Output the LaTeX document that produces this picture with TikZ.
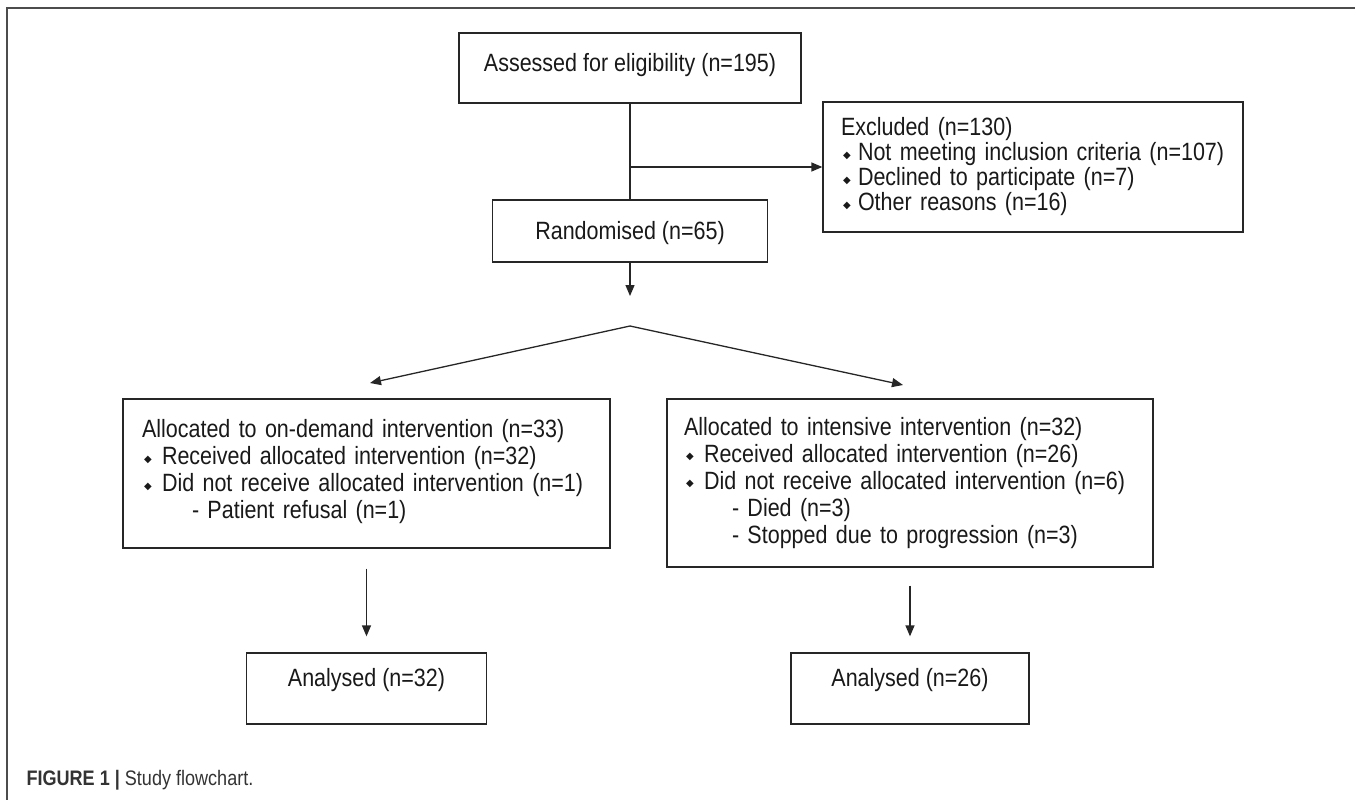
\documentclass[tikz,border=0pt]{standalone}
\usepackage{fontspec}
\setmainfont[FakeStretch=0.86]{Liberation Sans}
\newfontfamily\symf{DejaVu Sans}
\usetikzlibrary{arrows.meta}
\newcommand{\bul}[1]{\makebox[#1][l]{\hspace{2pt}\raisebox{2.5pt}{\symf\fontsize{10}{10}\selectfont ◆}}}
\tikzset{
  flowbox/.style={draw=black!85, line width=1.3pt, inner sep=0pt, font=\fontsize{25}{27}\selectfont, text=black!90},
  ln/.style={line width=1.3pt, draw=black!85},
  arr/.style={line width=1.3pt, draw=black!85, -{Triangle[length=11pt,width=9pt]}},
}
\begin{document}
\begin{tikzpicture}[x=1pt,y=-1pt]
\useasboundingbox (0,0) rectangle (1355,800);
\draw[line width=1.5pt, draw=black!70] (7,800) -- (7,8) -- (1355,8);

\node[flowbox, minimum width=342pt, minimum height=70pt, text depth=10.2pt] (assess) at (630,68) {Assessed for eligibility (n=195)};
\node[flowbox, minimum width=275pt, minimum height=62pt, text depth=0.5pt] (rand) at (630,231) {Randomised (n=65)};
\node[flowbox, minimum width=420pt, minimum height=130pt, inner xsep=18pt, text width=384pt, align=left, font=\fontsize{25}{25}\selectfont] (excl) at (1033,167) {Excluded (n=130)\\ \bul{17pt}Not meeting inclusion criteria (n=107)\\ \bul{17pt}Declined to participate (n=7)\\ \bul{17pt}Other reasons (n=16)};

\node[flowbox, minimum width=487pt, minimum height=149pt, inner xsep=19pt, text width=449pt, align=left] (alloc1) at (366.5,473.5) {Allocated to on-demand intervention (n=33)\\
\bul{20pt}Received allocated intervention (n=32)\\
\bul{20pt}Did not receive allocated intervention (n=1)\\
\hspace*{50pt}- Patient refusal (n=1)\rule[-9pt]{0pt}{9pt}};

\node[flowbox, minimum width=486pt, minimum height=168pt, inner xsep=17pt, text width=452pt, align=left] (alloc2) at (910,483) {Allocated to intensive intervention (n=32)\\
\bul{20pt}Received allocated intervention (n=26)\\
\bul{20pt}Did not receive allocated intervention (n=6)\\
\hspace*{48pt}- Died (n=3)\\
\hspace*{48pt}- Stopped due to progression (n=3)};

\node[flowbox, minimum width=240pt, minimum height=71pt, text depth=21.2pt] (an1) at (366.5,688.5) {Analysed (n=32)};
\node[flowbox, minimum width=238pt, minimum height=71pt, text depth=21.2pt] (an2) at (910,688.5) {Analysed (n=26)};

\coordinate (br) at (630,167);
\coordinate (rtip) at (630,296);
\coordinate (apex) at (630,326);
\coordinate (ltip) at (370,383);
\coordinate (rtip2) at (903,385);

\draw[ln] (assess.south) -- (rand.north);
\draw[arr] (br) -- (excl.west);
\draw[arr] (rand.south) -- (rtip);
\draw[arr] (apex) -- (ltip);
\draw[arr] (apex) -- (rtip2);
\draw[arr] ([yshift=-20pt]alloc1.south) -- ([yshift=16pt]an1.north);
\draw[arr] ([yshift=-18pt]alloc2.south) -- ([yshift=16pt]an2.north);

\node[anchor=west, font=\fontsize{21}{22}\selectfont, text=black!80] (cap) at (23,780) {\textbf{FIGURE 1 |} Study flowchart.};
\end{tikzpicture}
\end{document}
